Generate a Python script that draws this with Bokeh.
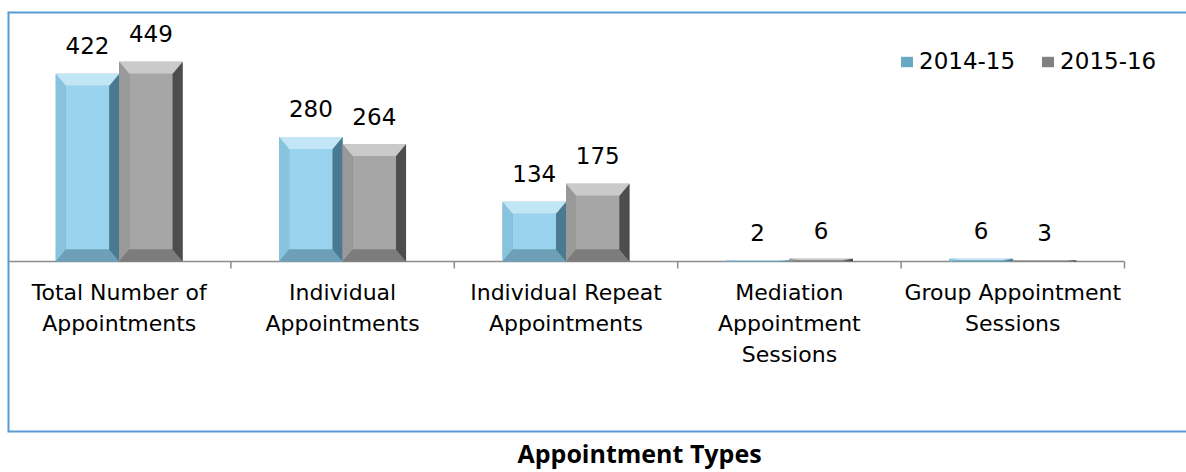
import numpy as np
from bokeh.plotting import figure
from bokeh.models import Range1d, Legend, LegendItem, Title, Span
from bokeh.core.properties import value
from bokeh.embed import file_html
from bokeh.resources import INLINE

# ---- data ----
categories = ["Total Number of\nAppointments", "Individual\nAppointments",
              "Individual Repeat\nAppointments", "Mediation\nAppointment\nSessions",
              "Group Appointment\nSessions"]
series_names = ["2014-15", "2015-16"]
v_2014_15 = [422, 280, 134, 2, 6]
v_2015_16 = [449, 264, 175, 6, 3]
axis_title = "Appointment Types"

# ---- geometry / style ----
PX_X = 223.4    # px per category
PX_Y = 0.445    # px per unit
W, H = 1186, 472
LEFT, TOP = 7, 11
xr = Range1d(0, (W - LEFT) / PX_X)
yr = Range1d(-171 / PX_Y, 250 / PX_Y)
p = figure(width=W, height=H, output_backend="svg", toolbar_location=None,
           x_axis_type=None, y_axis_type=None, x_range=xr, y_range=yr,
           min_border_left=LEFT, min_border_right=0, min_border_top=TOP, min_border_bottom=40)
p.xgrid.visible = False
p.ygrid.visible = False
p.outline_line_color = None
p.background_fill_color = "white"
p.border_fill_color = "white"

# chart-area border (top, left, bottom; the right side runs off the page)
border_color = "#5B9BD5"
for loc, dim in [(yr.end, "width"), (yr.start, "width"), (xr.start, "height")]:
    p.add_layout(Span(location=loc, dimension=dim, line_color=border_color, line_width=4))

n = len(categories)
idx = np.arange(n)

# axis line and category ticks
p.segment(x0=[0], y0=[0], x1=[n], y1=[0], line_color="#8C8C8C", line_width=1.5)
tick_len = 7 / PX_Y
p.segment(x0=idx + 1, y0=np.zeros(n), x1=idx + 1, y1=np.full(n, -tick_len),
          line_color="#8C8C8C", line_width=1.5)

bar_w = 0.284
offsets = [-0.142, 0.142]
palettes = [
    dict(face="#9AD3EE", top="#C2E6F6", left="#88C3DE", right="#4A7A90", bottom="#6E9FB6", legend="#6AA9C4"),
    dict(face="#A6A6A6", top="#CACACA", left="#999999", right="#4D4D4D", bottom="#7C7C7C", legend="#808080"),
]
bx = 10 / PX_X
by_full = 12 / PX_Y

legend_items = []
for vals, off, pal, name in zip([v_2014_15, v_2015_16], offsets, palettes, series_names):
    vals = np.array(vals, dtype=float)
    xc = idx + 0.5 + off
    x0 = xc - bar_w / 2
    x1 = xc + bar_w / 2
    by = np.minimum(by_full, vals / 2)
    outer = p.quad(left=x0, right=x1, bottom=0, top=vals, fill_color=pal["legend"], line_color=None)
    p.quad(left=x0 + bx, right=x1 - bx, bottom=by, top=vals - by, fill_color=pal["face"],
           line_color=None)
    top_xs, top_ys, l_xs, l_ys, r_xs, r_ys, b_xs, b_ys = [], [], [], [], [], [], [], []
    for a, b, h, d in zip(x0, x1, vals, by):
        top_xs.append([a, b, b - bx, a + bx]); top_ys.append([h, h, h - d, h - d])
        l_xs.append([a, a, a + bx, a + bx]); l_ys.append([0, h, h - d, d])
        r_xs.append([b, b, b - bx, b - bx]); r_ys.append([h, 0, d, h - d])
        b_xs.append([a, b, b - bx, a + bx]); b_ys.append([0, 0, d, d])
    p.patches(l_xs, l_ys, fill_color=pal["left"], line_color=None)
    p.patches(b_xs, b_ys, fill_color=pal["bottom"], line_color=None)
    p.patches(r_xs, r_ys, fill_color=pal["right"], line_color=None)
    p.patches(top_xs, top_ys, fill_color=pal["top"], line_color=None)
    # value labels
    p.text(x=xc, y=vals, text=[str(int(v)) for v in vals], text_align="center",
           text_baseline="alphabetic", y_offset=-28, text_font=value("DejaVu Sans"),
           text_font_size="23px", text_color="#000000")
    legend_items.append(LegendItem(label=name, renderers=[outer]))

# category labels
p.text(x=idx + 0.5, y=np.zeros(n), text=categories, text_align="center", text_baseline="top",
       y_offset=18, text_font=value("DejaVu Sans"), text_font_size="22px",
       text_line_height=1.24, text_color="#000000")

legend = Legend(items=legend_items, orientation="horizontal", location=(892, 358),
                padding=0, margin=0, spacing=25, glyph_width=15, glyph_height=13,
                label_standoff=5, label_text_font="DejaVu Sans", label_text_font_size="23px",
                label_text_color="#000000",
                background_fill_alpha=0, border_line_alpha=0)
p.add_layout(legend)

t = Title(text=axis_title, align="left", offset=510, text_font="Open Sans",
          text_font_size="25px", text_font_style="bold", text_color="#000000", standoff=2)
p.add_layout(t, "below")

open("out.html", "w").write(file_html(p, INLINE))
